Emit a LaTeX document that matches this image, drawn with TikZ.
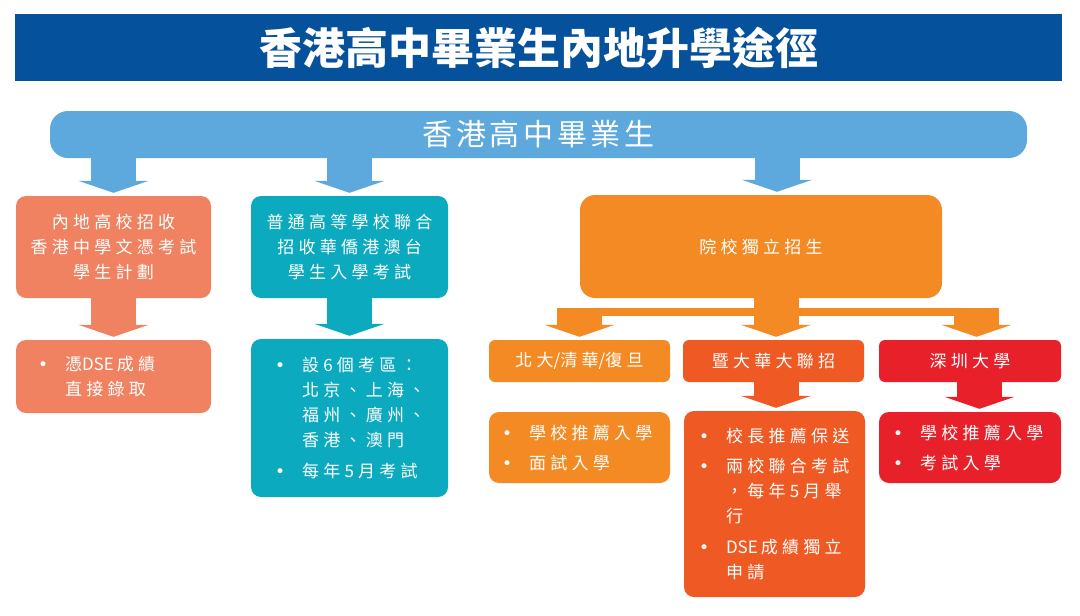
\documentclass[tikz,border=0pt]{standalone}
\usepackage{fontspec}
\newfontfamily\cjk{Noto Sans CJK TC}
\newfontfamily\cjkwide{Noto Sans CJK TC}[LetterSpace=25]
\newfontfamily\cjkbar{Noto Sans CJK TC}[LetterSpace=12]
\newfontfamily\dotfont{DejaVu Sans}
\usetikzlibrary{arrows.meta,positioning}

\definecolor{titleblue}{HTML}{06519B}
\definecolor{barblue}{HTML}{5DA8DC}
\definecolor{salmon}{HTML}{F08262}
\definecolor{teal}{HTML}{0BAABF}
\definecolor{indeporange}{HTML}{F38A24}
\definecolor{jnuorange}{HTML}{EF5A24}
\definecolor{szured}{HTML}{E8202A}

\newcommand{\bul}{\makebox[27pt][l]{\dotfont •}}
\newcommand{\cont}{\hspace*{27pt}}
\newcommand{\dse}{{\cjk DSE}\hspace{3pt}}

\tikzset{
  box/.style={rounded corners=10pt, inner sep=0pt, text=white,
    font=\cjkwide\fontsize{17}{25}\selectfont, align=center},
  listbox/.style={box, align=left},
  rowbox/.style={box, rounded corners=6pt, minimum width=181, minimum height=42},
  blockarrow/.style={line width=45pt, -{Triangle[width=70pt,length=12pt]}, shorten >=3pt},
}

\begin{document}
\begin{tikzpicture}[x=1pt,y=-1pt]
\useasboundingbox[fill=white] (0,0) rectangle (1080,616);

% title and top bar
\node[fill=titleblue, minimum width=1047, minimum height=67, inner sep=0pt, text=white,
  font=\cjk\bfseries\fontsize{43}{50}\selectfont] (title) at (538.5,47.5) {香港高中畢業生內地升學途徑};
\node[fill=barblue, rounded corners=18pt, minimum width=977, minimum height=47, inner sep=0pt, text=white,
  font=\cjkbar\fontsize{30}{36}\selectfont] (grad) at (538.5,134.5) {香港高中畢業生};

% three routes
\node[box, fill=salmon, minimum width=195, minimum height=102] (mainland) at (113.5,247)
  {內地高校招收\\香港中學文憑考試\\學生計劃};
\node[box, fill=teal, minimum width=197, minimum height=102] (joint) at (349.5,247)
  {普通高等學校聯合\\招收華僑港澳台\\學生入學考試};
\node[box, fill=indeporange, rounded corners=15pt, minimum width=362, minimum height=103] (indep) at (761,246.5)
  {院校獨立招生};

\draw[blockarrow, barblue] (mainland.north |- grad.south) -- (mainland.north);
\draw[blockarrow, barblue] (joint.north |- grad.south) -- (joint.north);
\draw[blockarrow, barblue] ([xshift=16]indep.north |- grad.south) -- ([xshift=16]indep.north);

% details of the first two routes
\node[listbox, fill=salmon, minimum width=195, minimum height=73, inner xsep=22pt, text width=151] (dse) at (113.5,376.5)
  {\bul 憑\dse 成績\\\cont 直接錄取};
\node[listbox, fill=teal, minimum width=197, minimum height=158, inner xsep=24pt, text width=149] (exam) at (349.5,418)
  {\bul 設6個考區：\\\cont 北京、上海、\\\cont 福州、廣州、\\\cont 香港、澳門\\[6pt]\bul 每年5月考試};

\draw[blockarrow, salmon] (mainland.south) -- (dse.north);
\draw[blockarrow, teal] (joint.south) -- (exam.north);

% independent admission
\node[rowbox, fill=indeporange] (pku) at (579.5,361) {北大{\cjk /}清華{\cjk /}復旦};
\node[rowbox, fill=jnuorange] (jnu) at (773.5,361) {暨大華大聯招};
\node[rowbox, fill=szured, minimum width=182] (szu) at (970,361) {深圳大學};

\coordinate (split) at (776,312);
\draw[indeporange, line width=8pt] ([xshift=-22.5]pku.north |- split) -- ([xshift=29]szu.north |- split);
\draw[blockarrow, indeporange] (indep.south -| split) -- (jnu.north -| split);
\draw[blockarrow, indeporange] (pku.north |- split) -- (pku.north);
\draw[blockarrow, indeporange] ([xshift=6.5]szu.north |- split) -- ([xshift=6.5]szu.north);

\node[listbox, fill=indeporange, minimum width=181, minimum height=71, inner xsep=13pt, text width=155] (pkulist) at (579.5,447.5)
  {\bul 學校推薦入學\\[5pt]\bul 面試入學};
\node[listbox, fill=jnuorange, minimum width=181, minimum height=186, inner xsep=15pt, text width=151] (jnulist) at (774.5,504)
  {\bul 校長推薦保送\\[5pt]\bul 兩校聯合考試\\\cont ，每年5月舉\\\cont 行\\[6pt]\bul \dse 成績獨立\\\cont 申請};
\node[listbox, fill=szured, minimum width=182, minimum height=71, inner xsep=14pt, text width=154] (szulist) at (970,447.5)
  {\bul 學校推薦入學\\[5pt]\bul 考試入學};

\draw[blockarrow, jnuorange] ([xshift=2.5]jnu.south) -- ([xshift=2.5]jnu.south |- jnulist.north);
\draw[blockarrow, szured] ([xshift=9.5]szu.south) -- ([xshift=9.5]szu.south |- szulist.north);

\end{tikzpicture}
\end{document}
